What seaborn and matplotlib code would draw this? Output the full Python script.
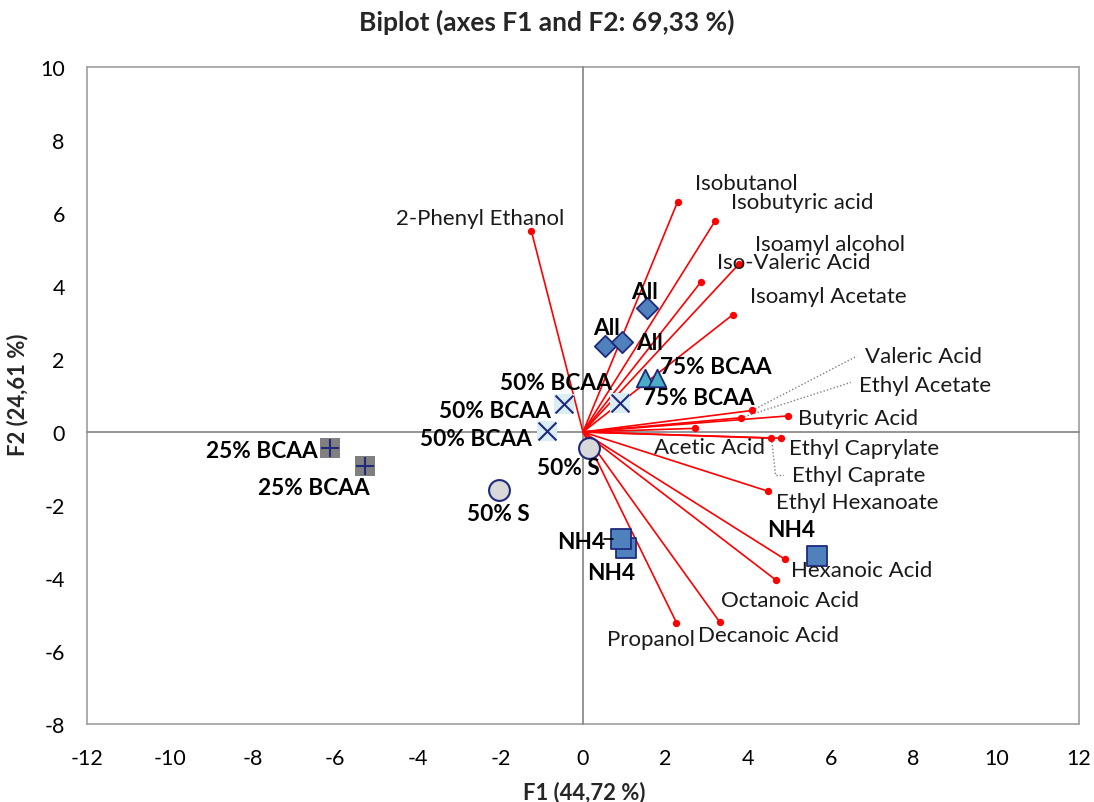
import numpy as np
import pandas as pd
import matplotlib
matplotlib.use("Agg")
import matplotlib.pyplot as plt
import seaborn as sns

# ---------------- data ----------------
obs_group = ['All', 'All', 'All', '75% BCAA', '75% BCAA',
             '50% BCAA', '50% BCAA', '50% BCAA', '50% S', '50% S',
             '25% BCAA', '25% BCAA', 'NH4', 'NH4', 'NH4']
obs_f1 = [1.54, 0.54, 0.95, 1.49, 1.78, -0.45, 0.89, -0.87, 0.15, -2.04,
          -6.12, -5.28, 1.03, 0.92, 5.65]
obs_f2 = [3.40, 2.36, 2.47, 1.48, 1.48, 0.77, 0.79, 0.02, -0.43, -1.58,
          -0.44, -0.92, -3.19, -2.93, -3.39]
# label anchor positions (centre of text)
obs_lab_f1 = [1.48, 0.58, 1.61, 3.21, 2.80, -0.66, -2.14, -2.59, -0.35, -2.04,
              -7.76, -6.51, 0.67, -0.05, 5.03]
obs_lab_f2 = [3.86, 2.85, 2.44, 1.79, 0.95, 1.36, 0.59, -0.19, -0.97, -2.22,
              -0.51, -1.51, -3.84, -2.99, -2.67]

var_names = ['Isobutanol', 'Isobutyric acid', 'Isoamyl alcohol', 'Iso-Valeric Acid',
             'Isoamyl Acetate', 'Valeric Acid', 'Ethyl Acetate', 'Butyric Acid',
             'Acetic Acid', 'Ethyl Caprylate', 'Ethyl Caprate', 'Ethyl Hexanoate',
             'Hexanoic Acid', 'Octanoic Acid', 'Propanol', 'Decanoic Acid',
             '2-Phenyl Ethanol']
var_f1 = [2.29, 3.19, 3.78, 2.86, 3.62, 4.09, 3.82, 4.95, 2.72, 4.79, 4.56, 4.47,
          4.89, 4.66, 2.26, 3.31, -1.25]
var_f2 = [6.31, 5.77, 4.61, 4.12, 3.21, 0.59, 0.39, 0.44, 0.10, -0.17, -0.17, -1.62,
          -3.49, -4.05, -5.22, -5.21, 5.51]
# label anchor positions (left edge / vertical centre; last one right edge)
var_lab_f1 = [2.70, 3.57, 4.17, 3.23, 4.03, 6.83, 6.67, 5.19, 1.71, 4.98, 5.06, 4.68,
              5.03, 3.35, 0.57, 2.79, -0.45]
var_lab_f2 = [6.82, 6.29, 5.15, 4.65, 3.73, 2.09, 1.30, 0.38, -0.42, -0.44, -1.18, -1.93,
              -3.78, -4.59, -5.67, -5.56, 5.86]
var_lab_ha = ['left'] * 16 + ['right']

# dotted leader lines for crowded labels
leaders = {
    'Valeric Acid': ([4.09, 6.63], [0.59, 2.08]),
    'Ethyl Acetate': ([3.82, 6.48], [0.39, 1.36]),
    'Ethyl Caprate': ([4.56, 4.66, 4.86], [-0.17, -1.19, -1.19]),
}
nh4_leader = ([0.52, 0.72], [-2.93, -2.93])

xticks = list(range(-12, 13, 2))
yticks = list(range(-8, 11, 2))

# ---------------- style ----------------
sns.set_theme(style="white")
plt.rcParams['font.family'] = ['Lato', 'DejaVu Sans']
plt.rcParams['axes.unicode_minus'] = False

W, H = 1094, 803
fig = plt.figure(figsize=(W / 100, H / 100), dpi=100)
l, r, t, b = 87, 1079, 68, 725
pos = [l / W, 1 - b / H, (r - l) / W, (b - t) / H]

frame_col = '#A6A6A6'
axis_col = '#8C8C8C'
navy = '#1F2A7C'

# background axes: frame + tick labels
ax_bg = fig.add_axes(pos)
ax_bg.set_xlim(-12, 12)
ax_bg.set_ylim(-8, 10)
ax_bg.set_xticks(xticks)
ax_bg.set_yticks(yticks)
ax_bg.tick_params(length=0, labelsize=15.5, colors='#000000')
ax_bg.tick_params(axis='x', pad=17)
ax_bg.tick_params(axis='y', pad=16)
for sp in ax_bg.spines.values():
    sp.set_visible(True)
    sp.set_color(frame_col)
    sp.set_linewidth(1.3)

# foreground axes: zero axes with crossing ticks + data
ax = fig.add_axes(pos)
ax.set_facecolor('none')
ax.set_xlim(-12, 12)
ax.set_ylim(-8, 10)
ax.spines['left'].set_position(('data', 0))
ax.spines['bottom'].set_position(('data', 0))
ax.spines['top'].set_visible(False)
ax.spines['right'].set_visible(False)
for s in ['left', 'bottom']:
    ax.spines[s].set_color(axis_col)
    ax.spines[s].set_linewidth(1.3)
ax.set_xticks(xticks)
ax.set_yticks(yticks)
ax.tick_params(direction='inout', length=10, width=1.3, color=axis_col,
               labelbottom=False, labelleft=False)

# variable vectors
rows = []
for n, x, y in zip(var_names, var_f1, var_f2):
    rows.append({'var': n, 'F1': 0.0, 'F2': 0.0})
    rows.append({'var': n, 'F1': x, 'F2': y})
vec = pd.DataFrame(rows)
sns.lineplot(data=vec, x='F1', y='F2', units='var', estimator=None, sort=False,
             color='#FF0000', linewidth=1.2, ax=ax, zorder=3, legend=False)
tips = pd.DataFrame({'F1': var_f1, 'F2': var_f2})
sns.scatterplot(data=tips, x='F1', y='F2', color='#FF0000', s=28, linewidth=0,
                ax=ax, zorder=4)

for k, (xs, ys) in leaders.items():
    ax.plot(xs, ys, linestyle=(0, (1, 1.5)), color='#808080', linewidth=1.0, zorder=3)

for n, x, y, ha in zip(var_names, var_lab_f1, var_lab_f2, var_lab_ha):
    ax.text(x, y, n, ha=ha, va='center', fontsize=16, color='#1A1A1A', zorder=6)

# observations
obs = pd.DataFrame({'group': obs_group, 'F1': obs_f1, 'F2': obs_f2})
g = lambda name: obs[obs['group'] == name]

sns.scatterplot(data=g('All'), x='F1', y='F2', marker='D', s=118, color='#4F81BD',
                edgecolor=navy, linewidth=1.3, ax=ax, zorder=5)
sns.scatterplot(data=g('75% BCAA'), x='F1', y='F2', marker='^', s=160, color='#4BACC6',
                edgecolor=navy, linewidth=1.3, ax=ax, zorder=5)
sns.scatterplot(data=g('50% BCAA'), x='F1', y='F2', marker='s', s=205, color='#DBEEF4',
                linewidth=0, ax=ax, zorder=5)
sns.scatterplot(data=g('50% BCAA'), x='F1', y='F2', marker='x', s=165, color=navy,
                linewidth=1.5, ax=ax, zorder=6)
sns.scatterplot(data=g('50% S'), x='F1', y='F2', marker='o', s=225, color='#D9D9D9',
                edgecolor=navy, linewidth=1.5, ax=ax, zorder=5)
sns.scatterplot(data=g('25% BCAA'), x='F1', y='F2', marker='s', s=205, color='#808080',
                linewidth=0, ax=ax, zorder=5)
sns.scatterplot(data=g('25% BCAA'), x='F1', y='F2', marker='+', s=165, color=navy,
                linewidth=1.5, ax=ax, zorder=6)
sns.scatterplot(data=g('NH4'), x='F1', y='F2', marker='s', s=205, color='#4F81BD',
                edgecolor=navy, linewidth=1.3, ax=ax, zorder=5)
ax.plot(*nh4_leader, color='#000000', linewidth=1.2, zorder=7)

for n, x, y in zip(obs_group, obs_lab_f1, obs_lab_f2):
    ax.text(x, y, n, ha='center', va='center', fontsize=16.3, fontweight='bold',
            color='#000000', zorder=7)

ax.set_xlabel('')
ax.set_ylabel('')
ax_bg.set_xlabel('')
ax_bg.set_ylabel('')

fig.text(547 / W, 1 - 22 / H, 'Biplot (axes F1 and F2: 69,33 %)', ha='center',
         va='center', fontsize=19, fontweight='bold')
fig.text(584 / W, 1 - 793 / H, 'F1 (44,72 %)', ha='center', va='center',
         fontsize=15.8, fontweight='bold')
fig.text(18 / W, 1 - 395 / H, 'F2 (24,61 %)', ha='center', va='center',
         fontsize=15.8, fontweight='bold', rotation=90)

fig.savefig('out.png', dpi=100)
